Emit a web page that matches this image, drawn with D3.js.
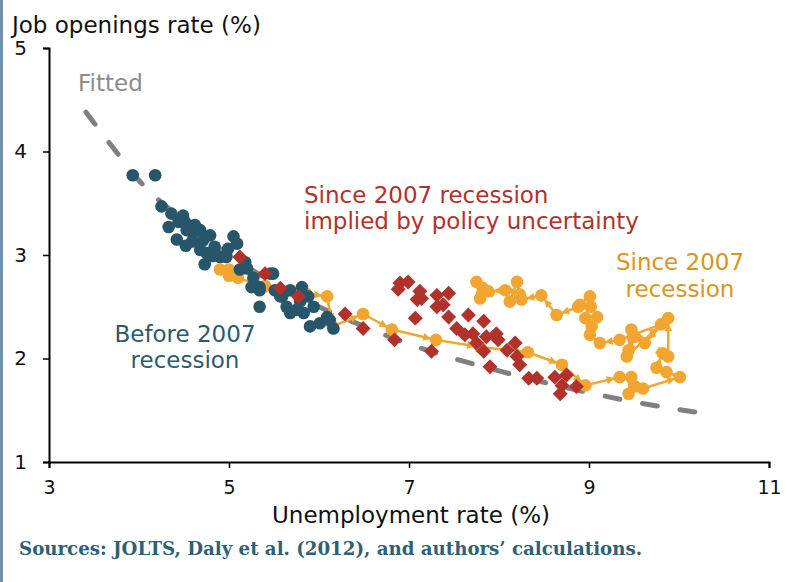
<!DOCTYPE html>
<html>
<head>
<meta charset="utf-8">
<script src="https://cdn.jsdelivr.net/npm/d3@7"></script>
<style>
  html, body { margin: 0; padding: 0; background: #fff; }
  svg { display: block; }
</style>
</head>
<body>
<svg id="chart" width="785" height="582"></svg>
<script>
// Before 2007 recession (unemployment %, job openings %)
const beforeU = [3.93, 4.18, 4.25, 4.36, 4.33, 4.44, 4.51, 4.42, 4.53, 4.60, 4.68, 4.59, 4.71, 4.68, 4.75,
    4.73, 4.84, 4.90, 4.97, 5.05, 4.99, 5.12, 5.20, 5.25, 5.34, 5.34, 5.49, 5.59, 5.64, 5.68,
    5.81, 5.88, 5.94, 5.83, 5.68, 5.90, 6.01, 6.12, 6.16, 5.75, 5.46, 5.34, 5.57, 5.18, 4.49,
    4.62, 4.82, 5.09, 6.09, 5.79, 5.51, 5.27, 4.52, 4.79];
const beforeV = [3.77, 3.77, 3.47, 3.40, 3.27, 3.32, 3.32, 3.15, 3.24, 3.21, 3.24, 3.13, 3.14, 3.05, 3.02,
    2.91, 3.08, 2.98, 2.98, 3.18, 3.06, 2.86, 2.87, 2.69, 2.66, 2.50, 2.82, 2.60, 2.50, 2.66,
    2.69, 2.60, 2.50, 2.44, 2.44, 2.31, 2.34, 2.37, 2.29, 2.47, 2.82, 2.69, 2.60, 2.93, 3.38,
    3.29, 2.99, 3.11, 2.40, 2.55, 2.66, 2.78, 3.09, 3.19];

// Since 2007 recession, monthly path
const sinceU = [5.0, 5.0, 4.9, 5.1, 5.0, 5.4, 5.6, 5.85, 6.09, 6.15, 6.49, 6.81, 7.30, 7.79, 8.32,
    8.70, 8.96, 9.34, 9.47, 9.44, 9.51, 9.60, 10.01, 9.86, 9.75, 9.82, 9.88, 9.88, 9.62, 9.47,
    9.44, 9.51, 9.42, 9.80, 9.34, 9.12, 9.01, 9.03, 9.09, 8.96, 9.01, 8.90, 9.02, 8.88, 8.64,
    8.47, 8.25, 8.20, 8.12, 8.23, 8.07, 7.88, 7.82, 7.79, 7.75];
const sinceV = [2.86, 2.82, 2.86, 2.78, 2.80, 2.70, 2.62, 2.63, 2.60, 2.31, 2.43, 2.28, 2.18, 2.11, 2.06,
    1.94, 1.74, 1.82, 1.82, 1.66, 1.73, 1.71, 1.82, 1.87, 1.91, 2.05, 2.02, 2.39, 2.15, 2.28,
    2.08, 2.21, 2.02, 2.33, 2.18, 2.15, 2.23, 2.31, 2.40, 2.39, 2.60, 2.52, 2.50, 2.50, 2.42,
    2.61, 2.57, 2.74, 2.55, 2.62, 2.66, 2.65, 2.68, 2.58, 2.74];

// Since 2007 recession implied by policy uncertainty
const impliedU = [5.12, 5.40, 5.57, 5.77, 6.29, 6.49, 6.84, 7.25, 6.90, 6.99, 6.88, 7.12, 7.09, 7.31, 7.44,
    7.38, 7.31, 7.07, 7.44, 7.53, 7.66, 7.62, 7.83, 7.71, 7.86, 7.97, 7.75, 7.83, 7.90, 8.09,
    8.18, 8.20, 8.23, 8.33, 8.42, 8.62, 8.75, 8.70, 8.68, 8.86, 7.99, 7.14];
const impliedV = [2.98, 2.82, 2.68, 2.60, 2.43, 2.29, 2.18, 2.07, 2.73, 2.74, 2.67, 2.65, 2.57, 2.61, 2.63,
    2.52, 2.50, 2.39, 2.40, 2.29, 2.42, 2.23, 2.36, 2.24, 2.21, 2.24, 2.15, 2.07, 1.92, 2.08,
    2.15, 2.02, 1.94, 1.81, 1.81, 1.82, 1.84, 1.74, 1.66, 1.73, 2.18, 2.58];

// Fitted curve
const fittedU = [3.41, 3.7, 4.0, 4.5, 5.0, 5.5, 6.0, 6.5, 7.0, 7.5, 8.0, 8.5, 9.0, 9.5, 10.2];
const fittedV = [4.38, 4.05, 3.72, 3.33, 3.0, 2.73, 2.5, 2.31, 2.14, 2.0, 1.88, 1.77, 1.67, 1.58, 1.48];

const xTicks = [3, 5, 7, 9, 11];
const yTicks = [1, 2, 3, 4, 5];

const BLUE = "#27566a";
const ORANGE = "#f2a630";
const RED = "#b1312b";
const GRAY = "#808080";
const FONT = "'DejaVu Sans', Verdana, sans-serif";

const W = 785, H = 582;
const svg = d3.select("#chart");

const x = d3.scaleLinear().domain([3, 11]).range([49, 769]);
const y = d3.scaleLinear().domain([1, 5]).range([462, 48]);

svg.append("rect").attr("width", W).attr("height", H).attr("fill", "#fff");
// thin page border on the left
svg.append("rect").attr("x", 0).attr("y", 0).attr("width", 3).attr("height", H).attr("fill", "#6f90ab");

// Fitted line
svg.append("path")
    .datum(d3.zip(fittedU, fittedV))
    .attr("d", d3.line().x(d => x(d[0])).y(d => y(d[1])).curve(d3.curveMonotoneX))
    .attr("fill", "none")
    .attr("stroke", GRAY)
    .attr("stroke-width", 5)
    .attr("stroke-dasharray", "15 23")
    .attr("stroke-linecap", "round");

// Arrow marker for the path
svg.append("defs").append("marker")
    .attr("id", "arrow")
    .attr("viewBox", "0 0 10 10")
    .attr("refX", 10)
    .attr("refY", 5)
    .attr("markerWidth", 9)
    .attr("markerHeight", 8)
    .attr("markerUnits", "userSpaceOnUse")
    .attr("orient", "auto")
    .append("path")
    .attr("d", "M0,0L10,5L0,10z")
    .attr("fill", ORANGE);

const since = d3.zip(sinceU, sinceV);

// Segments, stopped short of the next dot so the arrow tip shows
svg.append("g").selectAll("line").data(d3.pairs(since)).join("line")
    .each(function([a, b]) {
        const x1 = x(a[0]), y1 = y(a[1]), x2 = x(b[0]), y2 = y(b[1]);
        const len = Math.hypot(x2 - x1, y2 - y1);
        const k = len > 0 ? Math.max(0, len - 5) / len : 0;
        d3.select(this)
            .attr("x1", x1).attr("y1", y1)
            .attr("x2", x1 + (x2 - x1) * k).attr("y2", y1 + (y2 - y1) * k);
    })
    .attr("stroke", ORANGE)
    .attr("stroke-width", 2.5)
    .attr("marker-end", "url(#arrow)");

svg.append("g").selectAll("circle").data(since).join("circle")
    .attr("cx", d => x(d[0]))
    .attr("cy", d => y(d[1]))
    .attr("r", 6.3)
    .attr("fill", ORANGE);

// Before 2007
svg.append("g").selectAll("circle").data(d3.zip(beforeU, beforeV)).join("circle")
    .attr("cx", d => x(d[0]))
    .attr("cy", d => y(d[1]))
    .attr("r", 6.3)
    .attr("fill", BLUE);

// Implied by policy uncertainty
const diamond = d3.symbol(d3.symbolSquare, 112);
svg.append("g").selectAll("path").data(d3.zip(impliedU, impliedV)).join("path")
    .attr("d", diamond)
    .attr("transform", d => `translate(${x(d[0])},${y(d[1])}) rotate(45)`)
    .attr("fill", RED);

// Axes
svg.append("g")
    .attr("transform", `translate(${x(3)},0)`)
    .call(d3.axisLeft(y).tickValues(yTicks).tickSize(6).tickPadding(16).tickFormat(d3.format("d")))
    .call(g => g.select(".domain").attr("stroke", "#000").attr("stroke-width", 2))
    .call(g => g.selectAll(".tick line").attr("stroke", "#000").attr("stroke-width", 1.5))
    .call(g => g.selectAll("text").attr("font-family", FONT).attr("font-size", 20).attr("fill", "#111"));

svg.append("g")
    .attr("transform", `translate(0,${y(1)})`)
    .call(d3.axisBottom(x).tickValues(xTicks).tickSize(6).tickPadding(13).tickFormat(d3.format("d")))
    .call(g => g.select(".domain").attr("stroke", "#000").attr("stroke-width", 2))
    .call(g => g.selectAll(".tick line").attr("stroke", "#000").attr("stroke-width", 1.5))
    .call(g => g.selectAll("text").attr("font-family", FONT).attr("font-size", 19).attr("fill", "#111"));

function label(lines, px, py, step, color, anchor) {
    const t = svg.append("text")
        .attr("font-family", FONT)
        .attr("font-size", 23)
        .attr("fill", color)
        .attr("text-anchor", anchor || "start");
    lines.forEach((s, i) => {
        t.append("tspan").attr("x", px).attr("y", py + i * step).text(s);
    });
    return t;
}

label(["Job openings rate (%)"], 12, 33, 0, "#111");
label(["Unemployment rate (%)"], 411, 523, 0, "#111", "middle");
label(["Fitted"], 78, 91, 0, "#8c8c8c");
label(["Since 2007 recession", "implied by policy uncertainty"], 304, 203, 26, RED);
label(["Since 2007", "recession"], 680, 270, 27, "#d9951f", "middle");
label(["Before 2007", "recession"], 185, 342, 26, "#2b5b6d", "middle");

svg.append("text")
    .attr("x", 19)
    .attr("y", 555)
    .attr("font-family", "'DejaVu Serif Condensed', 'DejaVu Serif', serif")
    .attr("font-weight", "bold")
    .attr("font-size", 18)
    .attr("fill", "#2d6175")
    .attr("textLength", 623)
    .attr("lengthAdjust", "spacingAndGlyphs")
    .text("Sources:  JOLTS, Daly et al. (2012), and authors\u2019 calculations.");
</script>
</body>
</html>
